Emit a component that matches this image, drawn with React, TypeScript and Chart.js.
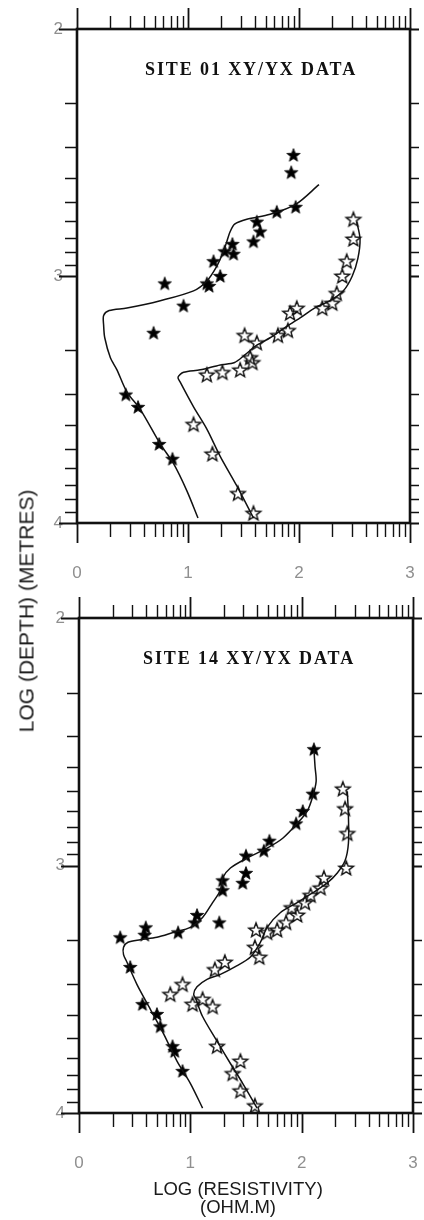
import React, { useEffect, useRef } from 'react';
import { Chart, registerables } from 'chart.js';
Chart.register(...registerables);

// ---- axis definitions ----
const X_TICKS = [0, 1, 2, 3];
const Y_TICKS = [2, 3, 4];
const MINOR_MULTIPLIERS = [2, 3, 4, 5, 6, 7, 8, 9];
const X_TITLE = ['LOG (RESISTIVITY)', '(OHM.M)'];
const Y_TITLE = 'LOG (DEPTH) (METRES)';

// ---- SITE 01 ----
const site01Title = 'SITE 01 XY/YX DATA';
const site01XyRes = [1.95, 1.93, 1.97, 1.80, 1.62, 1.65, 1.59, 1.40, 1.33, 1.41, 1.23, 1.29, 0.79, 1.17, 1.19, 0.96, 0.69, 0.44, 0.55, 0.74, 0.86];
const site01XyDepth = [2.51, 2.58, 2.72, 2.74, 2.78, 2.82, 2.86, 2.87, 2.90, 2.91, 2.94, 3.00, 3.03, 3.03, 3.04, 3.12, 3.23, 3.48, 3.53, 3.68, 3.74];
const site01YxRes = [2.49, 2.49, 2.43, 2.39, 2.34, 2.30, 2.21, 1.98, 1.92, 1.90, 1.81, 1.51, 1.62, 1.56, 1.58, 1.47, 1.31, 1.17, 1.05, 1.22, 1.45, 1.59];
const site01YxDepth = [2.77, 2.85, 2.94, 3.00, 3.07, 3.11, 3.13, 3.13, 3.15, 3.22, 3.24, 3.24, 3.27, 3.33, 3.35, 3.38, 3.39, 3.40, 3.60, 3.72, 3.88, 3.96];
const site01XyModelRes = [2.18, 1.97, 1.74, 1.53, 1.42, 1.38, 1.35, 1.32, 1.26, 1.17, 1.05, 0.75, 0.45, 0.29, 0.24, 0.24, 0.25, 0.30, 0.36, 0.45, 0.57, 0.75, 0.87, 0.99, 1.09];
const site01XyModelDepth = [2.63, 2.71, 2.75, 2.77, 2.79, 2.82, 2.86, 2.90, 2.96, 3.02, 3.06, 3.10, 3.13, 3.14, 3.16, 3.20, 3.25, 3.33, 3.38, 3.47, 3.54, 3.68, 3.76, 3.87, 3.98];
const site01YxModelRes = [2.52, 2.55, 2.53, 2.48, 2.40, 2.28, 2.14, 2.01, 1.87, 1.74, 1.62, 1.51, 1.42, 1.29, 1.11, 0.96, 0.91, 0.93, 1.05, 1.17, 1.29, 1.44, 1.59];
const site01YxModelDepth = [2.78, 2.85, 2.93, 3.00, 3.06, 3.10, 3.13, 3.17, 3.21, 3.25, 3.28, 3.32, 3.35, 3.36, 3.38, 3.39, 3.41, 3.43, 3.53, 3.62, 3.73, 3.85, 3.98];

// ---- SITE 14 ----
const site14Title = 'SITE 14 XY/YX DATA';
const site14XyRes = [2.11, 2.10, 2.01, 1.95, 1.71, 1.66, 1.50, 1.50, 1.47, 1.29, 1.29, 1.06, 1.04, 1.26, 0.89, 0.60, 0.59, 0.37, 0.46, 0.57, 0.70, 0.73, 0.84, 0.86, 0.93];
const site14XyDepth = [2.53, 2.71, 2.78, 2.83, 2.90, 2.94, 2.96, 3.03, 3.07, 3.06, 3.10, 3.20, 3.23, 3.23, 3.27, 3.25, 3.28, 3.29, 3.41, 3.56, 3.60, 3.65, 3.73, 3.75, 3.83];
const site14YxRes = [2.37, 2.39, 2.41, 2.40, 2.20, 2.17, 2.08, 2.03, 1.91, 1.96, 1.86, 1.78, 1.69, 1.59, 1.58, 1.62, 1.31, 1.22, 0.93, 0.82, 1.11, 1.02, 1.20, 1.24, 1.45, 1.38, 1.45, 1.58];
const site14YxDepth = [2.69, 2.77, 2.87, 3.01, 3.05, 3.09, 3.12, 3.15, 3.17, 3.20, 3.23, 3.26, 3.27, 3.26, 3.33, 3.37, 3.39, 3.42, 3.48, 3.52, 3.54, 3.56, 3.57, 3.73, 3.79, 3.84, 3.91, 3.97];
const site14XyModelRes = [2.11, 2.12, 2.13, 2.10, 2.05, 1.96, 1.83, 1.69, 1.51, 1.36, 1.29, 1.27, 1.20, 1.11, 1.00, 0.85, 0.70, 0.55, 0.44, 0.40, 0.40, 0.43, 0.52, 0.64, 0.76, 0.88, 1.00, 1.11];
const site14XyModelDepth = [2.53, 2.60, 2.66, 2.72, 2.78, 2.83, 2.89, 2.93, 2.97, 3.01, 3.05, 3.10, 3.15, 3.21, 3.25, 3.27, 3.29, 3.30, 3.31, 3.33, 3.36, 3.39, 3.48, 3.58, 3.68, 3.79, 3.88, 3.98];
const site14YxModelRes = [2.41, 2.42, 2.42, 2.39, 2.32, 2.23, 2.10, 1.96, 1.81, 1.69, 1.63, 1.54, 1.40, 1.27, 1.15, 1.06, 1.03, 1.05, 1.11, 1.24, 1.36, 1.47, 1.60];
const site14YxModelDepth = [2.70, 2.80, 2.91, 2.98, 3.03, 3.07, 3.11, 3.15, 3.19, 3.25, 3.31, 3.37, 3.41, 3.44, 3.46, 3.49, 3.52, 3.54, 3.61, 3.71, 3.80, 3.88, 3.98];

const pts = (xs: number[], ys: number[]) => xs.map((x, i) => ({ x, y: ys[i] }));

function makeStar(filled: boolean, r: number): HTMLCanvasElement {
  const size = Math.ceil(r * 2 + 4);
  const c = document.createElement('canvas');
  c.width = size;
  c.height = size;
  const ctx = c.getContext('2d')!;
  const cx = size / 2;
  const cy = size / 2 + 0.6;
  ctx.beginPath();
  for (let i = 0; i < 10; i++) {
    const rad = i % 2 === 0 ? r : r * 0.42;
    const a = -Math.PI / 2 + (i * Math.PI) / 5;
    const px = cx + rad * Math.cos(a);
    const py = cy + rad * Math.sin(a);
    if (i === 0) ctx.moveTo(px, py);
    else ctx.lineTo(px, py);
  }
  ctx.closePath();
  ctx.lineJoin = 'miter';
  if (filled) {
    ctx.fillStyle = '#000';
    ctx.fill();
    ctx.lineWidth = 0.8;
    ctx.strokeStyle = '#000';
    ctx.stroke();
  } else {
    ctx.lineWidth = 1.4;
    ctx.strokeStyle = '#111';
    ctx.stroke();
  }
  return c;
}

const frameTicksPlugin = {
  id: 'frameTicks',
  afterDatasetsDraw(chart: any, _args: any, opts: any) {
    const { ctx, chartArea: a } = chart;
    const xs = chart.scales.x;
    const ys = chart.scales.y;
    ctx.save();
    ctx.strokeStyle = '#111';
    ctx.lineCap = 'butt';
    const xVals: { v: number; major: boolean }[] = [];
    for (let d = X_TICKS[0]; d < X_TICKS[X_TICKS.length - 1]; d++) {
      xVals.push({ v: d, major: true });
      MINOR_MULTIPLIERS.forEach((k) => xVals.push({ v: d + Math.log10(k), major: false }));
    }
    xVals.push({ v: X_TICKS[X_TICKS.length - 1], major: true });
    xVals.forEach(({ v, major }) => {
      const px = Math.round(xs.getPixelForValue(v)) + 0.5;
      ctx.lineWidth = major ? 1.8 : 1.4;
      ctx.beginPath();
      ctx.moveTo(px, a.top);
      ctx.lineTo(px, a.top - (major ? 21 : 13));
      ctx.moveTo(px, a.bottom);
      ctx.lineTo(px, a.bottom + (major ? 20 : 14));
      ctx.stroke();
    });
    const yVals: { v: number; major: boolean }[] = [];
    for (let d = Y_TICKS[0]; d < Y_TICKS[Y_TICKS.length - 1]; d++) {
      yVals.push({ v: d, major: true });
      MINOR_MULTIPLIERS.forEach((k) => yVals.push({ v: d + Math.log10(k), major: false }));
    }
    yVals.push({ v: Y_TICKS[Y_TICKS.length - 1], major: true });
    yVals.forEach(({ v, major }) => {
      const py = Math.round(ys.getPixelForValue(v)) + 0.5;
      ctx.lineWidth = major ? 1.8 : 1.4;
      ctx.beginPath();
      ctx.moveTo(a.left, py);
      ctx.lineTo(a.left - (major ? 18 : 12), py);
      ctx.moveTo(a.right, py);
      ctx.lineTo(a.right + 9, py);
      ctx.stroke();
    });
    ctx.lineWidth = 2.6;
    ctx.strokeRect(a.left, a.top, a.right - a.left, a.bottom - a.top);
    if (opts && opts.title) {
      ctx.fillStyle = '#111';
      ctx.font = 'bold 18px "Liberation Serif", "DejaVu Serif", serif';
      try {
        (ctx as any).letterSpacing = '1.9px';
      } catch (e) {}
      ctx.textAlign = 'center';
      ctx.textBaseline = 'middle';
      ctx.fillText(opts.title, opts.titleX, opts.titleY);
    }
    ctx.restore();
  },
};

type PanelProps = {
  top: number;
  height: number;
  area: { left: number; right: number; top: number; bottom: number };
  title: string;
  titleX: number;
  titleY: number;
  xyRes: number[];
  xyDepth: number[];
  yxRes: number[];
  yxDepth: number[];
  xyModelRes: number[];
  xyModelDepth: number[];
  yxModelRes: number[];
  yxModelDepth: number[];
};

const WIDTH = 424;

function Panel(p: PanelProps) {
  const ref = useRef<HTMLCanvasElement | null>(null);
  useEffect(() => {
    if (!ref.current) return;
    const filledStar = makeStar(true, 7);
    const openStar = makeStar(false, 7.6);
    const tickFont = { family: '"Liberation Sans", Arial, sans-serif', size: 17 };
    const chart = new Chart(ref.current, {
      type: 'scatter',
      data: {
        datasets: [
          {
            label: 'XY model',
            data: pts(p.xyModelRes, p.xyModelDepth),
            showLine: true,
            borderColor: '#111',
            borderWidth: 1.5,
            pointRadius: 0,
            tension: 0.3,
          } as any,
          {
            label: 'YX model',
            data: pts(p.yxModelRes, p.yxModelDepth),
            showLine: true,
            borderColor: '#111',
            borderWidth: 1.5,
            pointRadius: 0,
            tension: 0.3,
          },
          {
            label: 'XY data',
            data: pts(p.xyRes, p.xyDepth),
            pointStyle: filledStar as any,
            pointRadius: 7,
          },
          {
            label: 'YX data',
            data: pts(p.yxRes, p.yxDepth),
            pointStyle: openStar as any,
            pointRadius: 7,
          },
        ],
      },
      options: {
        animation: false,
        responsive: false,
        maintainAspectRatio: false,
        layout: { padding: 0 },
        events: [],
        plugins: {
          legend: { display: false },
          tooltip: { enabled: false },
          frameTicks: { title: p.title, titleX: p.titleX, titleY: p.titleY },
        } as any,
        scales: {
          x: {
            type: 'linear',
            position: 'bottom',
            min: X_TICKS[0],
            max: X_TICKS[X_TICKS.length - 1],
            afterBuildTicks: (s: any) => {
              s.ticks = X_TICKS.map((v) => ({ value: v }));
            },
            ticks: {
              padding: 2,
              color: '#8f8f8f',
              font: tickFont,
              maxRotation: 0,
              autoSkip: false,
              callback: (v: any) => String(v),
            },
            grid: { display: false, drawTicks: true, tickLength: 38 },
            border: { display: false },
            afterFit: (s: any) => {
              s.height = p.height - p.area.bottom;
            },
          },
          xTop: {
            type: 'linear',
            position: 'top',
            min: X_TICKS[0],
            max: X_TICKS[X_TICKS.length - 1],
            ticks: { display: false },
            grid: { display: false, drawTicks: false },
            border: { display: false },
            afterFit: (s: any) => {
              s.height = p.area.top;
            },
          },
          y: {
            type: 'linear',
            position: 'left',
            min: Y_TICKS[0],
            max: Y_TICKS[Y_TICKS.length - 1],
            reverse: true,
            afterBuildTicks: (s: any) => {
              s.ticks = Y_TICKS.map((v) => ({ value: v }));
            },
            ticks: {
              padding: 2,
              color: '#8f8f8f',
              font: tickFont,
              callback: (v: any) => String(v),
            },
            grid: { display: false, drawTicks: true, tickLength: 12 },
            border: { display: false },
            afterFit: (s: any) => {
              s.width = p.area.left;
            },
          },
          yRight: {
            type: 'linear',
            position: 'right',
            min: Y_TICKS[0],
            max: Y_TICKS[Y_TICKS.length - 1],
            reverse: true,
            ticks: { display: false },
            grid: { display: false, drawTicks: false },
            border: { display: false },
            afterFit: (s: any) => {
              s.width = WIDTH - p.area.right;
            },
          },
        } as any,
      },
      plugins: [frameTicksPlugin],
    });
    return () => chart.destroy();
  }, []);
  return (
    <canvas
      ref={ref}
      width={WIDTH}
      height={p.height}
      style={{ position: 'absolute', left: 0, top: p.top, width: WIDTH, height: p.height }}
    />
  );
}

export default function App() {
  return (
    <div style={{ position: 'absolute', left: 0, top: 0, width: WIDTH, height: 1220, background: '#fff', overflow: 'hidden' }}>
      <Panel
        top={0}
        height={590}
        area={{ left: 77, right: 410, top: 29, bottom: 523 }}
        title={site01Title}
        titleX={251}
        titleY={70}
        xyRes={site01XyRes}
        xyDepth={site01XyDepth}
        yxRes={site01YxRes}
        yxDepth={site01YxDepth}
        xyModelRes={site01XyModelRes}
        xyModelDepth={site01XyModelDepth}
        yxModelRes={site01YxModelRes}
        yxModelDepth={site01YxModelDepth}
      />
      <Panel
        top={590}
        height={630}
        area={{ left: 79, right: 413, top: 28, bottom: 523 }}
        title={site14Title}
        titleX={249}
        titleY={69}
        xyRes={site14XyRes}
        xyDepth={site14XyDepth}
        yxRes={site14YxRes}
        yxDepth={site14YxDepth}
        xyModelRes={site14XyModelRes}
        xyModelDepth={site14XyModelDepth}
        yxModelRes={site14YxModelRes}
        yxModelDepth={site14YxModelDepth}
      />
      <div
        style={{
          position: 'absolute',
          left: 26,
          top: 611,
          transform: 'translate(-50%, -50%) rotate(-90deg)',
          whiteSpace: 'nowrap',
          font: '21px "Liberation Sans", Arial, sans-serif',
          color: '#1a1a1a',
          lineHeight: '21px',
        }}
      >
        {Y_TITLE}
      </div>
      <div
        style={{
          position: 'absolute',
          left: 238,
          top: 1198,
          transform: 'translate(-50%, -50%)',
          whiteSpace: 'nowrap',
          textAlign: 'center',
          font: '18.5px "Liberation Sans", Arial, sans-serif',
          color: '#1a1a1a',
          lineHeight: '18px',
        }}
      >
        {X_TITLE.map((t) => (
          <div key={t}>{t}</div>
        ))}
      </div>
    </div>
  );
}
